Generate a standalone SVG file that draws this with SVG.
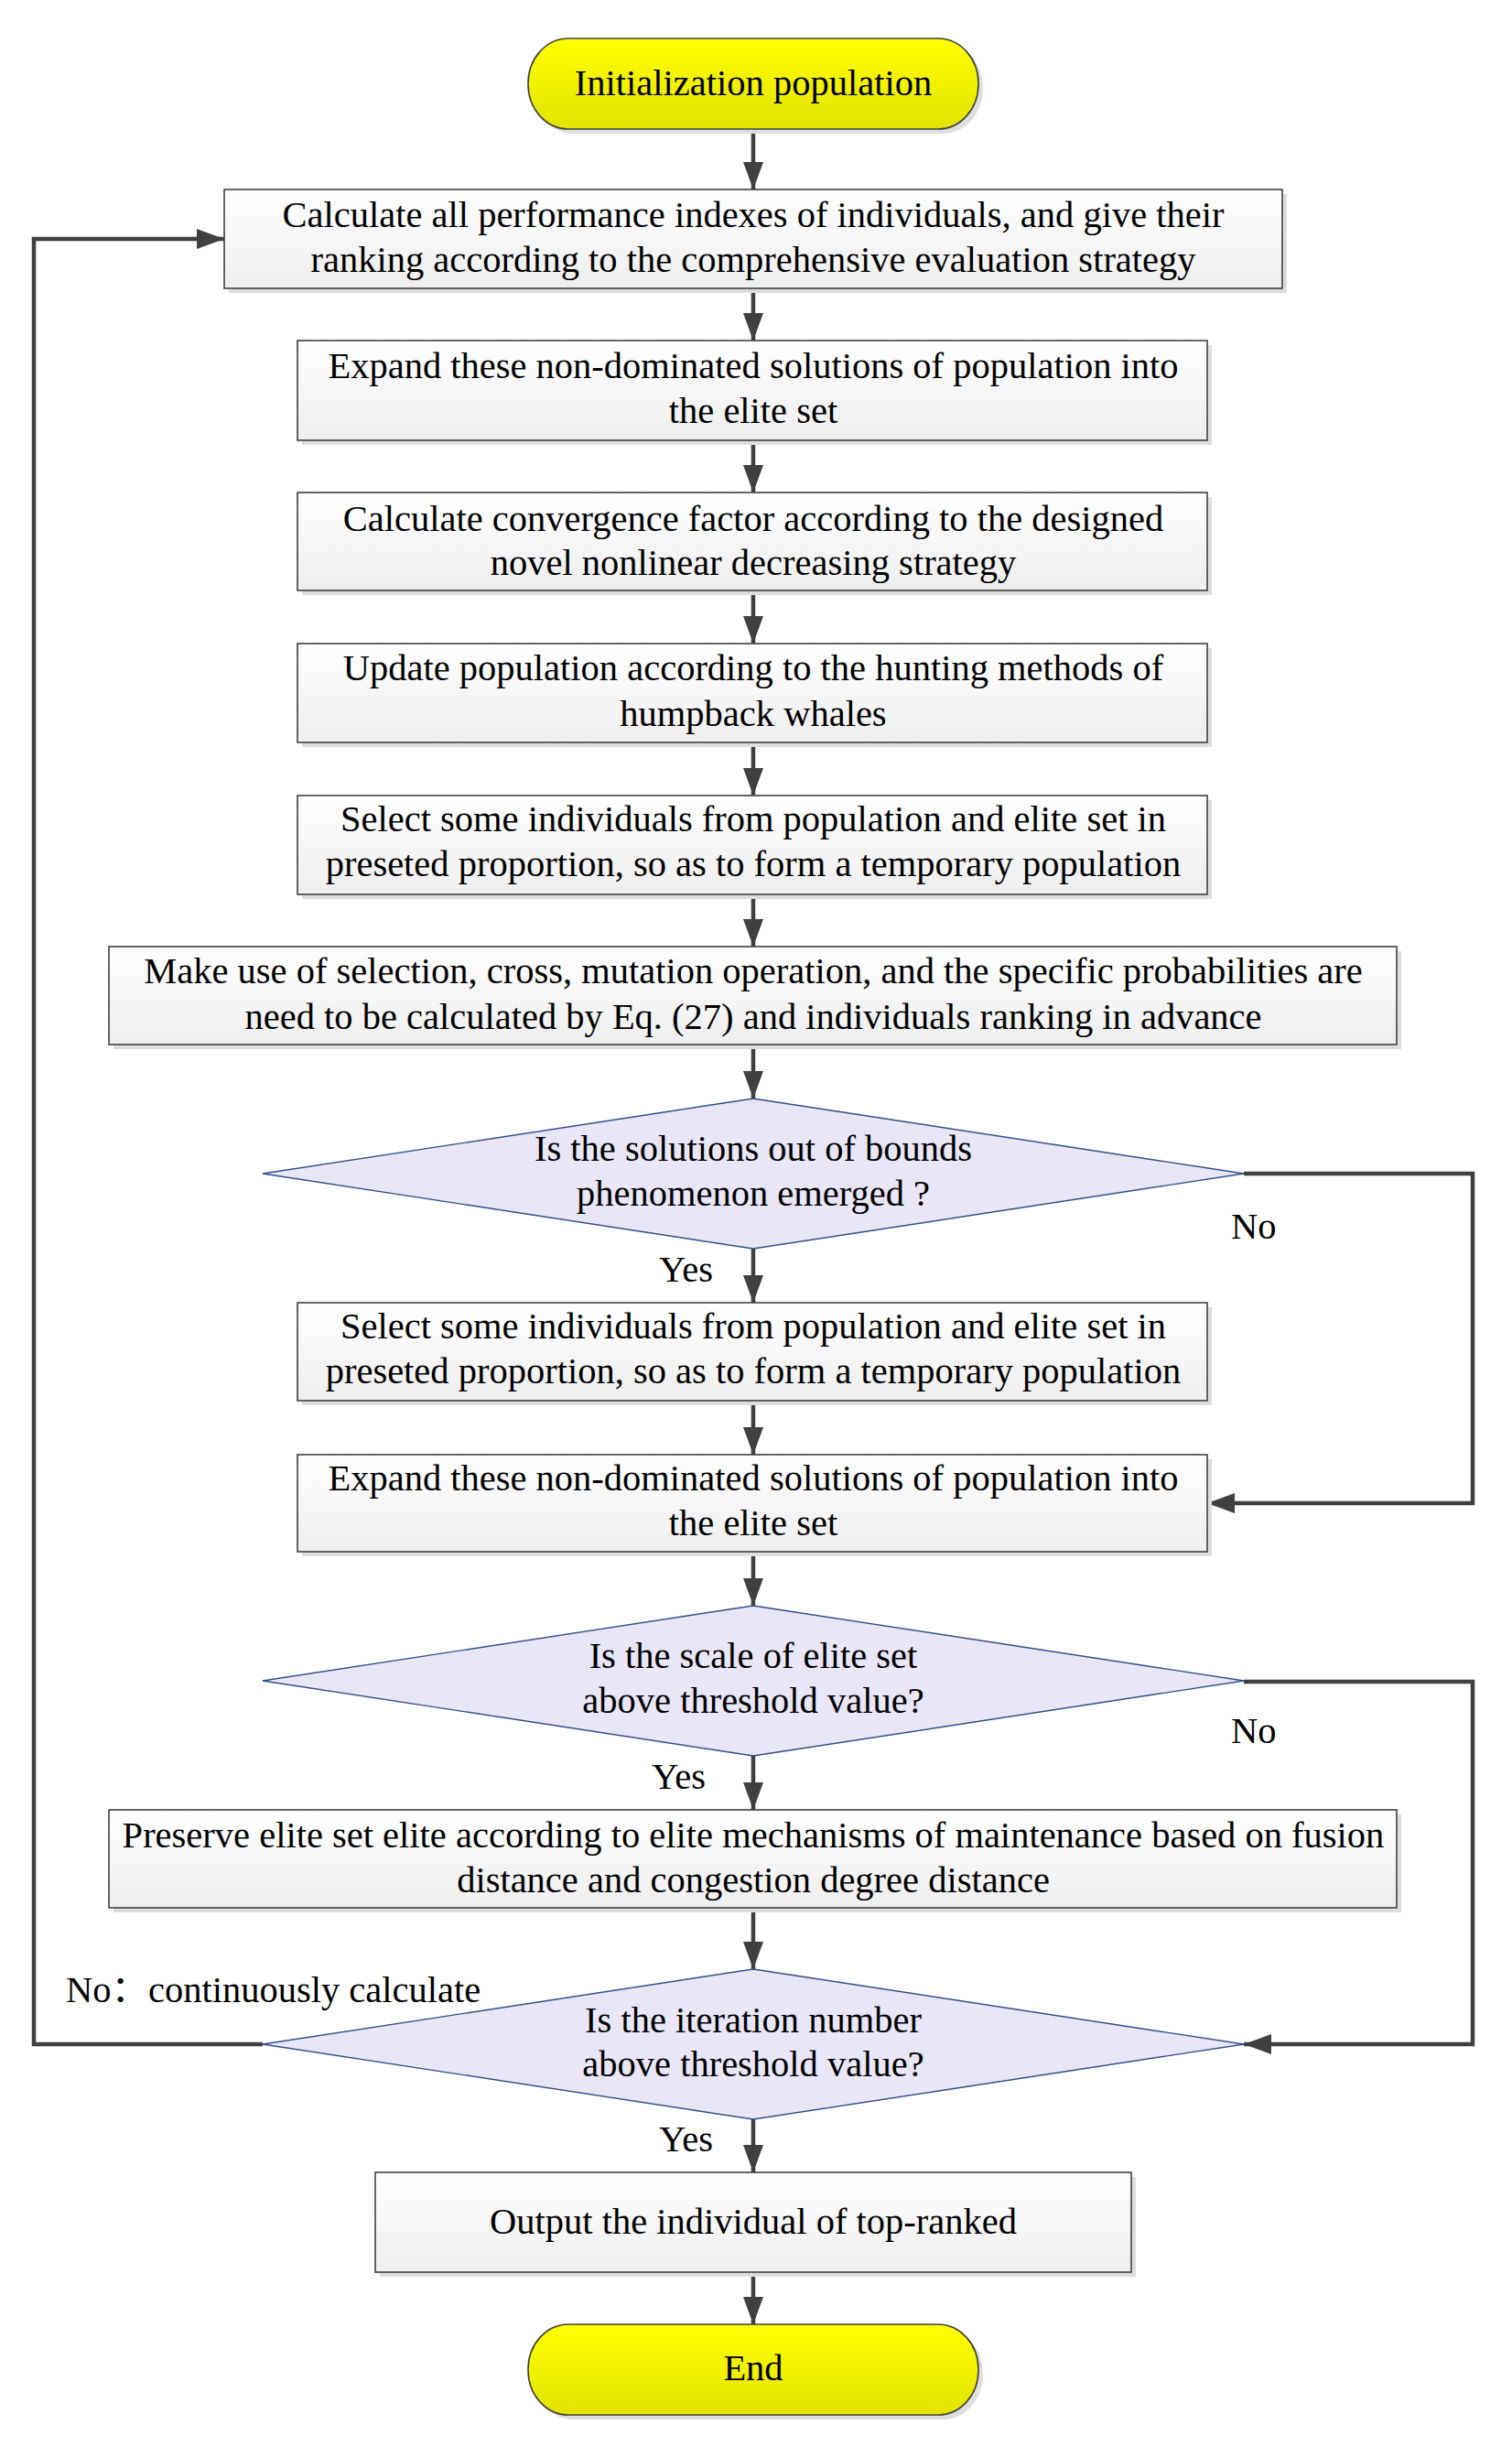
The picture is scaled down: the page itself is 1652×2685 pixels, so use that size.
<svg xmlns="http://www.w3.org/2000/svg" width="1652" height="2685" viewBox="0 0 1652 2685">
<defs>
<linearGradient id="gBox" x1="0" y1="0" x2="0" y2="1"><stop offset="0" stop-color="#ffffff"/><stop offset="1" stop-color="#eeeeee"/></linearGradient>
<linearGradient id="gTerm" x1="0" y1="0" x2="0" y2="1"><stop offset="0" stop-color="#ffff00"/><stop offset="1" stop-color="#e3e300"/></linearGradient>
<marker id="arr" markerUnits="userSpaceOnUse" markerWidth="30" markerHeight="22" viewBox="0 0 30 22" refX="30" refY="11" orient="auto"><path d="M0,0 L30,11 L0,22 z" fill="#404040"/></marker>
<style>
.c{text-anchor:middle}
.box{fill:url(#gBox);stroke:#404040;stroke-width:1.6}
.term{fill:url(#gTerm);stroke:#404040;stroke-width:1.6}
.dia{fill:#e9e6f8;stroke:#2f4f8a;stroke-width:1.4}
.sh{fill:#dedede}
.con{fill:none;stroke:#404040;stroke-width:4.5}
.arr{marker-end:url(#arr)}
</style>
</defs>
<rect width="1652" height="2685" fill="#ffffff"/>
<g id="connectors">
<line class="con arr" x1="823" y1="142" x2="823" y2="207"/>
<line class="con arr" x1="823" y1="316" x2="823" y2="372"/>
<line class="con arr" x1="823" y1="481" x2="823" y2="538"/>
<line class="con arr" x1="823" y1="645" x2="823" y2="703"/>
<line class="con arr" x1="823" y1="811" x2="823" y2="869"/>
<line class="con arr" x1="823" y1="977" x2="823" y2="1034"/>
<line class="con arr" x1="823" y1="1141" x2="823" y2="1200"/>
<line class="con arr" x1="823" y1="1364" x2="823" y2="1423"/>
<line class="con arr" x1="823" y1="1530" x2="823" y2="1589"/>
<line class="con arr" x1="823" y1="1695" x2="823" y2="1754"/>
<line class="con arr" x1="823" y1="1918" x2="823" y2="1977"/>
<line class="con arr" x1="823" y1="2084" x2="823" y2="2151"/>
<line class="con arr" x1="823" y1="2315" x2="823" y2="2373"/>
<line class="con arr" x1="823" y1="2482" x2="823" y2="2539"/>
<polyline class="con arr" points="1359,1282 1609,1282 1609,1642 1319,1642"/>
<polyline class="con arr" points="1359,1837 1609,1837 1609,2233 1359,2233"/>
<polyline class="con arr" points="287,2233 37,2233 37,261 245,261"/>
</g>
<g font-family="'Liberation Serif', 'Noto Sans CJK SC', serif" font-size="40.5" fill="#000000">
<g id="start">
<rect class="sh" x="582" y="47" width="492" height="99" rx="44" ry="49"/>
<rect class="term" x="577" y="42" width="492" height="99" rx="44" ry="49"/>
<text class="c" x="823" y="104">Initialization population</text>
</g>
<g id="box1">
<rect class="sh" x="250" y="212" width="1156" height="108"/>
<rect class="box" x="245" y="207" width="1156" height="108"/>
<text class="c" x="823" y="248">Calculate all performance indexes of individuals, and give their</text>
<text class="c" x="823" y="297">ranking according to the comprehensive evaluation strategy</text>
</g>
<g id="box2">
<rect class="sh" x="330" y="377" width="994" height="109"/>
<rect class="box" x="325" y="372" width="994" height="109"/>
<text class="c" x="823" y="413">Expand these non-dominated solutions of population into</text>
<text class="c" x="823" y="462">the elite set</text>
</g>
<g id="box3">
<rect class="sh" x="330" y="543" width="994" height="107"/>
<rect class="box" x="325" y="538" width="994" height="107"/>
<text class="c" x="823" y="580">Calculate convergence factor according to the designed</text>
<text class="c" x="823" y="628">novel nonlinear decreasing strategy</text>
</g>
<g id="box4">
<rect class="sh" x="330" y="708" width="994" height="108"/>
<rect class="box" x="325" y="703" width="994" height="108"/>
<text class="c" x="823" y="743">Update population according to the hunting methods of</text>
<text class="c" x="823" y="793">humpback whales</text>
</g>
<g id="box5">
<rect class="sh" x="330" y="874" width="994" height="108"/>
<rect class="box" x="325" y="869" width="994" height="108"/>
<text class="c" x="823" y="908">Select some individuals from population and elite set in</text>
<text class="c" x="823" y="957">preseted proportion, so as to form a temporary population</text>
</g>
<g id="box6">
<rect class="sh" x="124" y="1039" width="1407" height="107"/>
<rect class="box" x="119" y="1034" width="1407" height="107"/>
<text class="c" x="823" y="1074">Make use of selection, cross, mutation operation, and the specific probabilities are</text>
<text class="c" x="823" y="1124">need to be calculated by Eq. (27) and individuals ranking in advance</text>
</g>
<g id="decision1">
<polygon class="dia" points="823,1200 1359,1282 823,1364 287,1282"/>
<text class="c" x="823" y="1268">Is the solutions out of bounds</text>
<text class="c" x="823" y="1317">phenomenon emerged ?</text>
</g>
<g id="box7">
<rect class="sh" x="330" y="1428" width="994" height="107"/>
<rect class="box" x="325" y="1423" width="994" height="107"/>
<text class="c" x="823" y="1462">Select some individuals from population and elite set in</text>
<text class="c" x="823" y="1511">preseted proportion, so as to form a temporary population</text>
</g>
<g id="box8">
<rect class="sh" x="330" y="1594" width="994" height="106"/>
<rect class="box" x="325" y="1589" width="994" height="106"/>
<text class="c" x="823" y="1628">Expand these non-dominated solutions of population into</text>
<text class="c" x="823" y="1677">the elite set</text>
</g>
<g id="decision2">
<polygon class="dia" points="823,1754 1359,1836 823,1918 287,1836"/>
<text class="c" x="823" y="1822">Is the scale of elite set</text>
<text class="c" x="823" y="1871">above threshold value?</text>
</g>
<g id="box9">
<rect class="sh" x="124" y="1982" width="1407" height="107"/>
<rect class="box" x="119" y="1977" width="1407" height="107"/>
<text class="c" x="823" y="2018">Preserve elite set elite according to elite mechanisms of maintenance based on fusion</text>
<text class="c" x="823" y="2067">distance and congestion degree distance</text>
</g>
<g id="decision3">
<polygon class="dia" points="823,2151 1359,2233 823,2315 287,2233"/>
<text class="c" x="823" y="2220">Is the iteration number</text>
<text class="c" x="823" y="2268">above threshold value?</text>
</g>
<g id="box10">
<rect class="sh" x="415" y="2378" width="826" height="109"/>
<rect class="box" x="410" y="2373" width="826" height="109"/>
<text class="c" x="823" y="2440">Output the individual of top-ranked</text>
</g>
<g id="end">
<rect class="sh" x="582" y="2544" width="492" height="99" rx="44" ry="49"/>
<rect class="term" x="577" y="2539" width="492" height="99" rx="44" ry="49"/>
<text class="c" x="823" y="2600">End</text>
</g>
<g id="labels">
<text x="720" y="1400">Yes</text>
<text x="1345" y="1353">No</text>
<text x="712" y="1954">Yes</text>
<text x="1345" y="1904">No</text>
<text x="72" y="2187">No：continuously calculate</text>
<text x="720" y="2350">Yes</text>
</g>
</g>
</svg>
